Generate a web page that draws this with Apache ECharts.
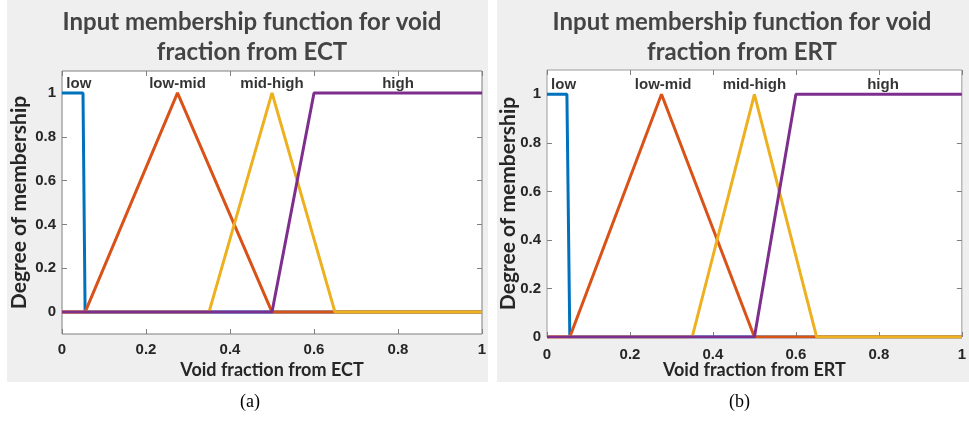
<!DOCTYPE html>
<html><head><meta charset="utf-8">
<script src="https://cdn.jsdelivr.net/npm/echarts@6/dist/echarts.min.js"></script>
<style>html,body{margin:0;padding:0;background:#fff}#c{width:969px;height:421px}</style>
</head><body><div id="c"></div>
<script>
// ---- data ----
const xTicks = [0, 0.2, 0.4, 0.6, 0.8, 1];
const yTicks = [0, 0.2, 0.4, 0.6, 0.8, 1];
const mfNames = ['low', 'low-mid', 'mid-high', 'high'];
const mfColors = ['#0072BD', '#D95319', '#EDB120', '#7E2F8E'];

// ECT membership functions [x, degree]
const ectLow = [[0, 1], [0.05, 1], [0.055, 0], [1, 0]];
const ectLowMid = [[0, 0], [0.055, 0], [0.275, 1], [0.5, 0], [1, 0]];
const ectMidHigh = [[0, 0], [0.35, 0], [0.5, 1], [0.65, 0], [1, 0]];
const ectHigh = [[0, 0], [0.5, 0], [0.6, 1], [1, 1]];
const ectLabelX = [0.04, 0.275, 0.5, 0.8];

// ERT membership functions [x, degree]
const ertLow = [[0, 1], [0.048, 1], [0.055, 0], [1, 0]];
const ertLowMid = [[0, 0], [0.055, 0], [0.276, 1], [0.5, 0], [1, 0]];
const ertMidHigh = [[0, 0], [0.35, 0], [0.5, 1], [0.65, 0], [1, 0]];
const ertHigh = [[0, 0], [0.5, 0], [0.6, 1], [1, 1]];
const ertLabelX = [0.04, 0.28, 0.5, 0.81];
const labelY = 1.04;

const titles = ['Input membership function for void\nfraction from ECT', 'Input membership function for void\nfraction from ERT'];
const xNames = ['Void fraction from ECT', 'Void fraction from ERT'];
const yName = 'Degree of membership';
const captions = ['(a)', '(b)'];

// ---- chart ----
const chart = echarts.init(document.getElementById('c'), null, {renderer: 'canvas'});
const tickFont = {fontFamily: 'Liberation Sans, Arial', fontWeight: 'bold', fontSize: 15, color: '#262626'};
const xNameFont = {fontFamily: 'Lato, Open Sans', fontWeight: 'bold', fontSize: 18, color: '#262626'};
const yNameFont = {fontFamily: 'Lato, Open Sans', fontWeight: 'bold', fontSize: 21, color: '#262626'};
const tickStyle = {inside: true, length: 5, lineStyle: {color: '#7f7f7f', width: 1}};

function xAxes(gi, nameGap, labelMargin) {
  return [
    {gridIndex: gi, type: 'value', min: 0, max: 1, interval: 0.2, position: 'bottom',
     name: xNames[gi], nameLocation: 'middle', nameGap: nameGap, nameTextStyle: xNameFont, nameMoveOverlap: false,
     axisLine: {show: false, onZero: false}, axisTick: tickStyle, splitLine: {show: false},
     axisLabel: Object.assign({margin: labelMargin, formatter: v => String(Number(v.toFixed(2)))}, tickFont)},
    {gridIndex: gi, type: 'value', min: 0, max: 1, interval: 0.2, position: 'top',
     axisLine: {show: false, onZero: false}, axisTick: tickStyle, splitLine: {show: false}, axisLabel: {show: false}}
  ];
}
function yAxes(gi, min, nameGap) {
  return [
    {gridIndex: gi, type: 'value', min: min, max: 1.1, position: 'left',
     name: yName, nameLocation: 'middle', nameGap: nameGap, nameTextStyle: yNameFont, nameMoveOverlap: false,
     axisLine: {show: false, onZero: false}, splitLine: {show: false},
     axisTick: Object.assign({customValues: yTicks}, tickStyle),
     axisLabel: Object.assign({customValues: yTicks, margin: 6, formatter: v => String(Number(v.toFixed(2)))}, tickFont)},
    {gridIndex: gi, type: 'value', min: min, max: 1.1, position: 'right',
     axisLine: {show: false, onZero: false}, splitLine: {show: false},
     axisTick: Object.assign({customValues: yTicks}, tickStyle), axisLabel: {show: false}}
  ];
}
function lineSeries(gi, sets) {
  return sets.map((d, i) => ({
    type: 'line', xAxisIndex: gi * 2, yAxisIndex: gi * 2, data: d, symbol: 'none',
    lineStyle: {color: mfColors[i], width: 3}, itemStyle: {color: mfColors[i]}, silent: true, animation: false
  }));
}
function labelSeries(gi, xs) {
  return {
    type: 'scatter', xAxisIndex: gi * 2, yAxisIndex: gi * 2, symbolSize: 1, silent: true, animation: false,
    itemStyle: {color: 'rgba(0,0,0,0)'}, z: 10,
    data: xs.map((x, i) => [x, labelY, mfNames[i]]),
    label: {show: true, position: 'inside', formatter: p => p.data[2],
      fontFamily: 'Liberation Sans, Arial', fontWeight: 'bold', fontSize: 15, color: '#000'}
  };
}

const titleStyle = {fontFamily: 'Lato, Open Sans', fontWeight: 'bold', fontSize: 24, lineHeight: 30, color: '#444444'};
const option = {
  animation: false,
  backgroundColor: '#ffffff',
  graphic: [
    {type: 'rect', shape: {x: 7, y: 0, width: 481, height: 382}, style: {fill: '#efefef'}, z: -10},
    {type: 'rect', shape: {x: 497, y: 0, width: 472, height: 382}, style: {fill: '#efefef'}, z: -10},
    {type: 'text', left: 240, top: 393, style: {text: captions[0], font: '18px "Liberation Serif", serif', fill: '#000'}},
    {type: 'text', left: 729, top: 393, style: {text: captions[1], font: '18px "Liberation Serif", serif', fill: '#000'}}
  ],
  title: [
    {text: titles[0], left: 247, top: 2, textAlign: 'center', textStyle: titleStyle},
    {text: titles[1], left: 737, top: 2, textAlign: 'center', textStyle: titleStyle}
  ],
  grid: [
    {left: 62, top: 71, width: 420, height: 263, show: true, backgroundColor: '#fff', borderColor: '#7f7f7f', borderWidth: 1},
    {left: 547, top: 70, width: 421, height: 267, show: true, backgroundColor: '#fff', borderColor: '#9a9a9a', borderWidth: 1}
  ],
  xAxis: [].concat(xAxes(0, 27, 8), xAxes(1, 24, 10)),
  yAxis: [].concat(yAxes(0, -0.1, 32), yAxes(1, 0, 28)),
  series: [].concat(
    lineSeries(0, [ectLow, ectLowMid, ectMidHigh, ectHigh]),
    [labelSeries(0, ectLabelX)],
    lineSeries(1, [ertLow, ertLowMid, ertMidHigh, ertHigh]),
    [labelSeries(1, ertLabelX)]
  )
};
chart.setOption(option);
</script></body></html>
